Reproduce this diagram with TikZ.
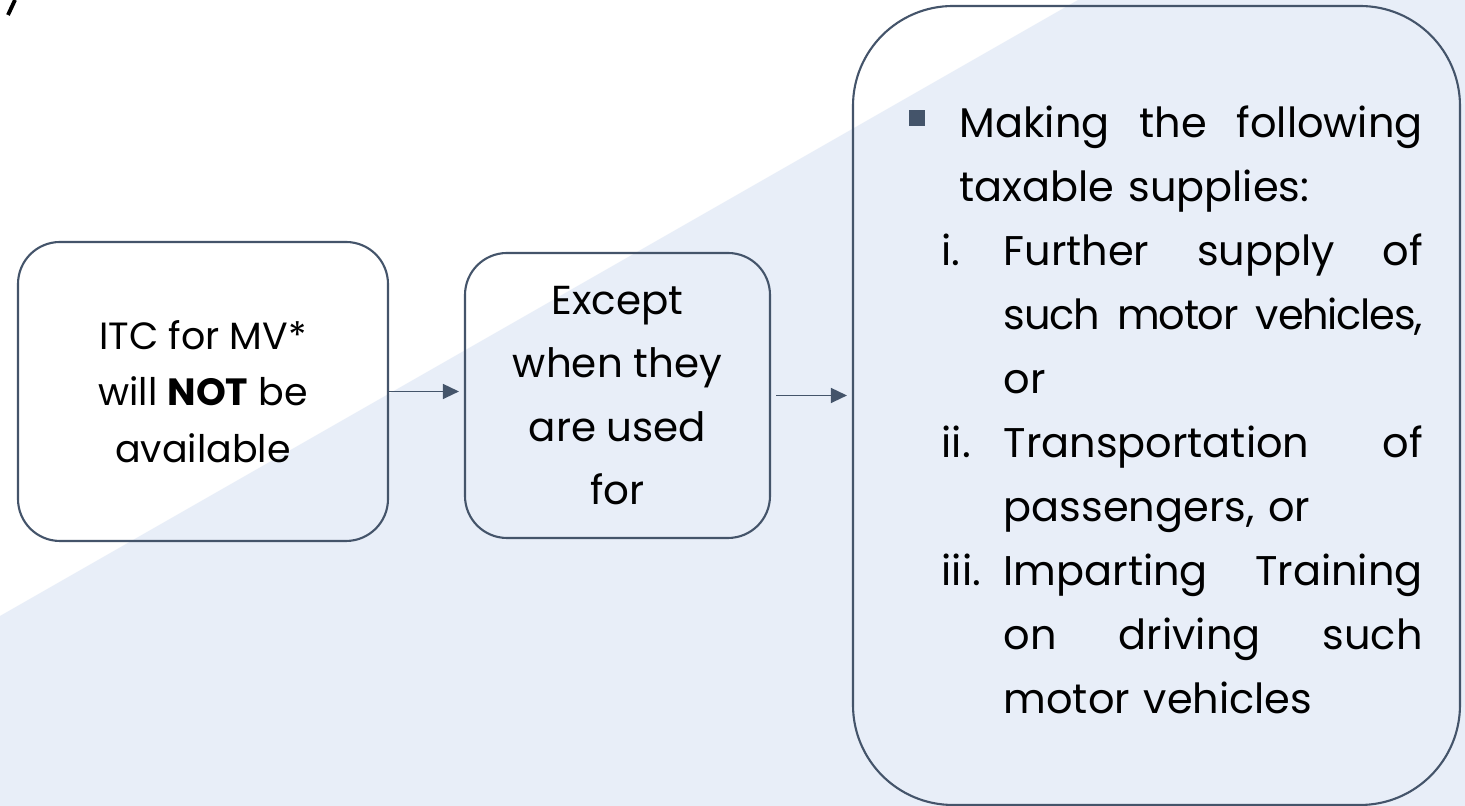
\documentclass[tikz,border=0pt]{standalone}
\usepackage{fontspec}
\setmainfont{Poppins}
\usetikzlibrary{arrows.meta}
\definecolor{slate}{HTML}{44546A}
\definecolor{paleblue}{RGB}{232,238,248}
\tikzset{
  flowbox/.style={draw=slate, line width=0.6pt, rounded corners=0.42cm, align=center, inner sep=0pt},
  flowarrow/.style={draw=slate, line width=0.42pt, -{Triangle[length=0.16cm,width=0.15cm]}},
}
\begin{document}
\begin{tikzpicture}
  % background
  \fill[white] (0,0) rectangle (14.65,8.06);
  \fill[paleblue] (0,0) -- (0,1.90) -- (10.78,8.06) -- (14.65,8.06) -- (14.65,0) -- cycle;
  \useasboundingbox (0,0) rectangle (14.65,8.06);
  \draw[line width=1.1pt] (0.08,7.91) -- (0.15,8.06);

  \node[flowbox, minimum width=3.70cm, minimum height=2.99cm, font=\fontsize{10.8}{16}\selectfont] (itc) at (2.03,4.145)
    {ITC for MV*\\will \textbf{NOT} be\\available};
  \node[flowbox, minimum width=3.05cm, minimum height=2.85cm, font=\fontsize{11.5}{18}\selectfont] (except) at (6.175,4.105)
    {Except\\when they\\are used\\for};
  \node[flowbox, rounded corners=1cm, minimum width=6.07cm, minimum height=7.99cm] (supplies) at (11.565,4.005) {};

  \node[anchor=base west, inner sep=0pt, text width=4.81cm, font=\fontsize{11.8}{18.2}\selectfont] (supplylist) at (9.41,6.68)
    {\llap{\textcolor{slate}{\raisebox{0.12cm}{\rule{0.16cm}{0.16cm}}}\hspace{0.17cm}}\hspace*{0.18cm}Making \hfill the \hfill following\\
     \hspace*{0.18cm}taxable supplies:\\
     \makebox[0.62cm][l]{i.}Further \hfill supply \hfill of\\
     \hspace*{0.62cm}{\addfontfeatures{LetterSpace=-3}such \hfill motor \hfill vehicles,}\\
     \hspace*{0.62cm}or\\
     \makebox[0.62cm][l]{ii.}Transportation \hfill of\\
     \hspace*{0.62cm}passengers, or\\
     \makebox[0.62cm][l]{iii.}Imparting \hfill Training\\
     \hspace*{0.62cm}on \hfill driving \hfill such\\
     \hspace*{0.62cm}motor vehicles};

  \draw[flowarrow, shorten >=0.05cm] (itc.east) -- (itc.east -| except.west);
  \draw[flowarrow, shorten <=0.05cm, shorten >=0.05cm] (except.east) -- (except.east -| supplies.west);
\end{tikzpicture}
\end{document}
